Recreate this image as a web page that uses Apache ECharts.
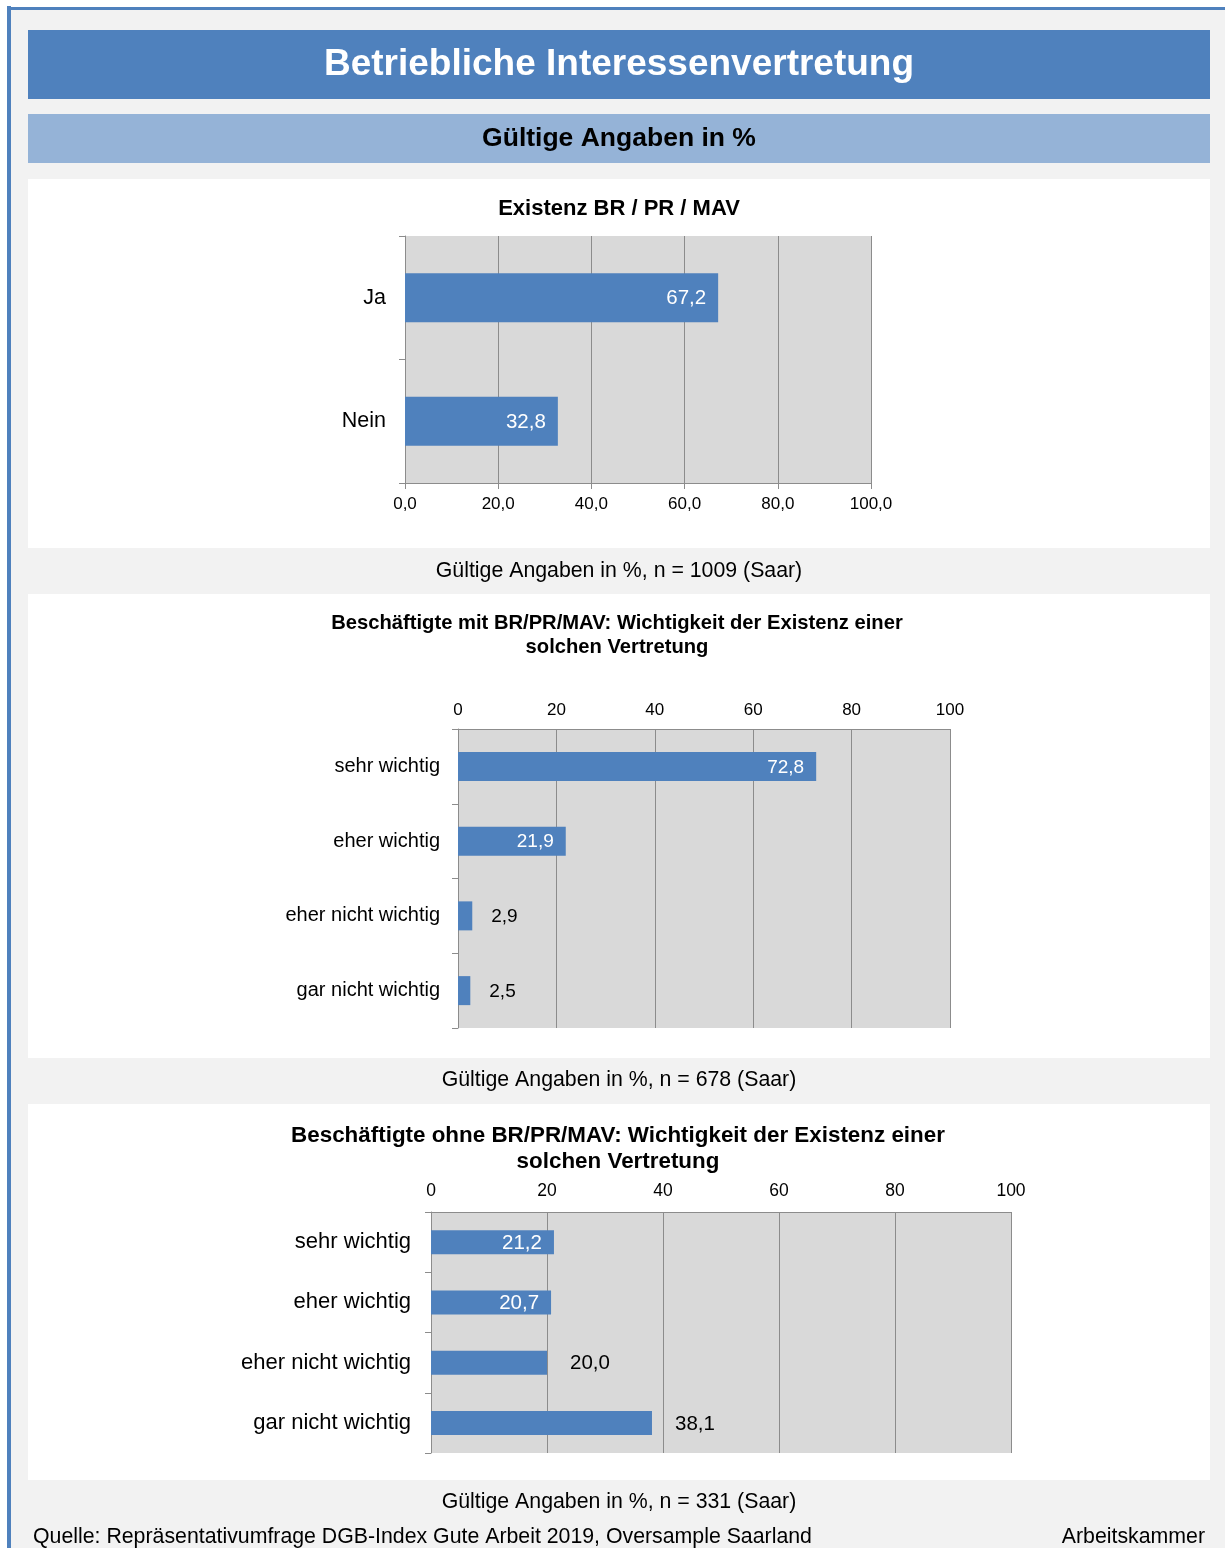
<!DOCTYPE html>
<html>
<head>
<meta charset="utf-8">
<script src="https://cdn.jsdelivr.net/npm/echarts@6/dist/echarts.min.js"></script>
<style>
html,body{margin:0;padding:0;background:#fff;}
#c{width:1225px;height:1548px;}
</style>
</head>
<body>
<div id="c"></div>
<script>
// ---- data ----
const cats1 = ['Ja', 'Nein'];
const vals1 = [67.2, 32.8];
const cats2 = ['sehr wichtig', 'eher wichtig', 'eher nicht wichtig', 'gar nicht wichtig'];
const vals2 = [72.8, 21.9, 2.9, 2.5];
const cats3 = ['sehr wichtig', 'eher wichtig', 'eher nicht wichtig', 'gar nicht wichtig'];
const vals3 = [21.2, 20.7, 20.0, 38.1];
const xTicks = [0, 20, 40, 60, 80, 100];
// whether the value label sits inside the bar end (true) or after it (false)
const labelInside1 = [true, true];
const labelInside2 = [true, true, false, false];
const labelInside3 = [true, true, false, false];

const FONT = '"Liberation Sans", Arial, sans-serif';
const BLUE = '#4f81bd';
const GRID = '#8c8c8c';
const fmt1 = v => Number(v).toFixed(1).replace('.', ',');

function barData(vals, inside, fontSize, insideDist, outsideDist) {
  return vals.map((v, i) => {
    const inn = inside[i];
    return {
      value: v,
      label: {
        show: true,
        position: inn ? 'insideRight' : 'right',
        distance: inn ? insideDist : outsideDist,
        color: inn ? '#ffffff' : '#000000',
        fontSize: fontSize,
        fontFamily: FONT,
        offset: [0, 1],
        formatter: p => fmt1(p.value)
      }
    };
  });
}

const chart = echarts.init(document.getElementById('c'), null, {renderer: 'canvas'});

function txt(x, y, text, size, weight, color, align) {
  return {
    type: 'text', x: x, y: y, z: 10,
    style: {
      text: text, fill: color || '#000', font: (weight || 'normal') + ' ' + size + 'px ' + FONT,
      textAlign: align || 'center', textVerticalAlign: 'middle'
    }
  };
}
function rect(x, y, w, h, color) {
  return {type: 'rect', shape: {x: x, y: y, width: w, height: h}, style: {fill: color}, z: -10, silent: true};
}

const option = {
  animation: false,
  backgroundColor: '#ffffff',
  graphic: [
    rect(11, 10, 1214, 1538, '#f2f2f2'),
    rect(10, 7, 1215, 3, BLUE),
    rect(7, 6, 4, 1542, BLUE),
    rect(28, 30, 1182, 69, BLUE),
    rect(28, 114, 1182, 49, '#95b3d7'),
    rect(28, 179, 1182, 369, '#ffffff'),
    rect(28, 594, 1182, 464, '#ffffff'),
    rect(28, 1104, 1182, 376, '#ffffff'),
    txt(619, 64.5, 'Betriebliche Interessenvertretung', 37, 'bold', '#ffffff'),
    txt(619, 139, 'Gültige Angaben in %', 26.5, 'bold', '#000'),
    txt(619, 209, 'Existenz BR / PR / MAV', 22, 'bold', '#000'),
    txt(619, 571, 'Gültige Angaben in %, n = 1009 (Saar)', 21.3, 'normal', '#000'),
    txt(617, 623, 'Beschäftigte mit BR/PR/MAV: Wichtigkeit der Existenz einer', 20.2, 'bold', '#000'),
    txt(617, 647, 'solchen Vertretung', 20.2, 'bold', '#000'),
    txt(619, 1080, 'Gültige Angaben in %, n = 678 (Saar)', 21.3, 'normal', '#000'),
    txt(618, 1136, 'Beschäftigte ohne BR/PR/MAV: Wichtigkeit der Existenz einer', 22.4, 'bold', '#000'),
    txt(618, 1162, 'solchen Vertretung', 22.4, 'bold', '#000'),
    txt(619, 1502, 'Gültige Angaben in %, n = 331 (Saar)', 21.3, 'normal', '#000'),
    txt(33, 1537, 'Quelle: Repräsentativumfrage DGB-Index Gute Arbeit 2019, Oversample Saarland', 21.3, 'normal', '#000', 'left'),
    txt(1205, 1537, 'Arbeitskammer', 21.3, 'normal', '#000', 'right')
  ],
  grid: [
    {left: 405, top: 236, width: 466, height: 247, show: true, backgroundColor: '#d9d9d9', borderWidth: 0},
    {left: 458, top: 729, width: 492, height: 299, show: true, backgroundColor: '#d9d9d9', borderWidth: 0},
    {left: 431, top: 1212, width: 580, height: 241, show: true, backgroundColor: '#d9d9d9', borderWidth: 0}
  ],
  xAxis: [
    {
      gridIndex: 0, type: 'value', min: xTicks[0], max: xTicks[xTicks.length - 1], interval: 20, position: 'bottom',
      axisLine: {show: true, lineStyle: {color: GRID, width: 1}},
      axisTick: {show: true, length: 6, lineStyle: {color: GRID}},
      splitLine: {show: true, lineStyle: {color: GRID, width: 1}},
      axisLabel: {margin: 13, fontSize: 17, color: '#000', fontFamily: FONT, formatter: v => fmt1(v)}
    },
    {
      gridIndex: 1, type: 'value', min: xTicks[0], max: xTicks[xTicks.length - 1], interval: 20, position: 'top',
      axisLine: {show: true, lineStyle: {color: GRID, width: 1}},
      axisTick: {show: false},
      splitLine: {show: true, lineStyle: {color: GRID, width: 1}},
      axisLabel: {margin: 10, fontSize: 17, color: '#000', fontFamily: FONT}
    },
    {
      gridIndex: 2, type: 'value', min: xTicks[0], max: xTicks[xTicks.length - 1], interval: 20, position: 'top',
      axisLine: {show: true, lineStyle: {color: GRID, width: 1}},
      axisTick: {show: false},
      splitLine: {show: true, lineStyle: {color: GRID, width: 1}},
      axisLabel: {margin: 12, fontSize: 17.5, color: '#000', fontFamily: FONT}
    }
  ],
  yAxis: [
    {
      gridIndex: 0, type: 'category', data: cats1, inverse: true,
      axisLine: {show: true, lineStyle: {color: GRID}},
      axisTick: {show: true, length: 6, lineStyle: {color: GRID}},
      axisLabel: {margin: 19, fontSize: 21.5, color: '#000', fontFamily: FONT, padding: [2, 0, 0, 0]}
    },
    {
      gridIndex: 1, type: 'category', data: cats2, inverse: true,
      axisLine: {show: true, lineStyle: {color: GRID}},
      axisTick: {show: true, length: 6, lineStyle: {color: GRID}},
      axisLabel: {margin: 18, fontSize: 20, color: '#000', fontFamily: FONT, padding: [2, 0, 0, 0]}
    },
    {
      gridIndex: 2, type: 'category', data: cats3, inverse: true,
      axisLine: {show: true, lineStyle: {color: GRID}},
      axisTick: {show: true, length: 6, lineStyle: {color: GRID}},
      axisLabel: {margin: 20, fontSize: 22, color: '#000', fontFamily: FONT, padding: [2, 0, 0, 0]}
    }
  ],
  series: [
    {type: 'bar', xAxisIndex: 0, yAxisIndex: 0, barWidth: 49, itemStyle: {color: BLUE}, data: barData(vals1, labelInside1, 20.5, 12, 20)},
    {type: 'bar', xAxisIndex: 1, yAxisIndex: 1, barWidth: 29, itemStyle: {color: BLUE}, data: barData(vals2, labelInside2, 19, 12, 19)},
    {type: 'bar', xAxisIndex: 2, yAxisIndex: 2, barWidth: 24, itemStyle: {color: BLUE}, data: barData(vals3, labelInside3, 20.5, 12, 23)}
  ]
};
chart.setOption(option);
</script>
</body>
</html>
